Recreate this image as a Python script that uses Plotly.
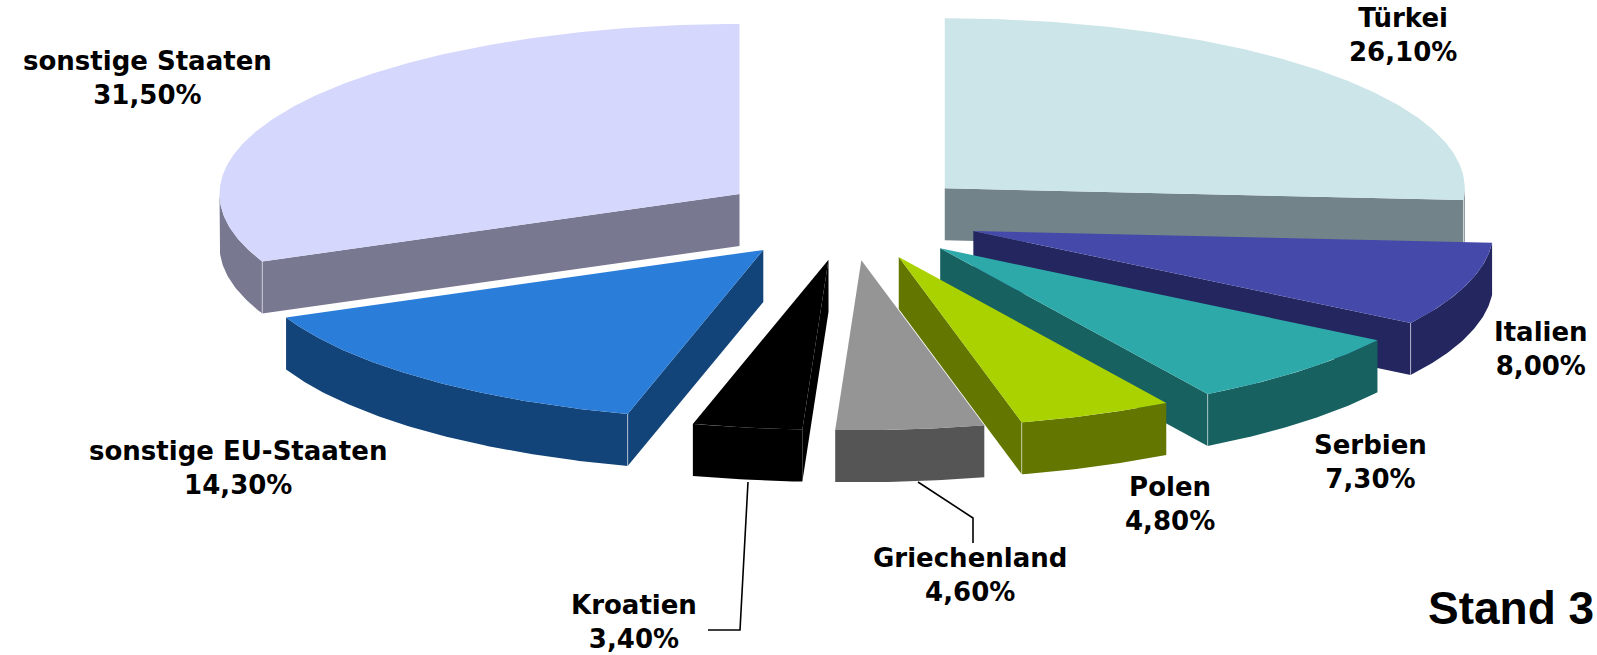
import numpy as np
import plotly.graph_objects as go

# Share of foreign residents by nationality (percent)
countries = ["Türkei", "Italien", "Serbien", "Polen", "Griechenland",
             "Kroatien", "sonstige EU-Staaten", "sonstige Staaten"]
shares = [26.1, 8.0, 7.3, 4.8, 4.6, 3.4, 14.3, 31.5]

top_colors = ["#CBE5E8", "#4449AA", "#2EA9A9", "#AAD100",
              "#959595", "#000000", "#2A7DD8", "#D5D8FC"]
side_colors = ["#72838A", "#24265F", "#176161", "#627600",
               "#555555", "#000000", "#134479", "#787891"]

# label centres (pixel space) and leader lines
label_x = [1403, 1541, 1370, 1170, 970, 634, 238, 147]
label_y = [35, 349, 462, 504, 575, 622, 468, 78]
leaders = {
    "Kroatien": [(748, 482), (740, 630), (708, 630)],
    "Griechenland": [(918, 482), (973, 518), (973, 543)],
}

# pseudo-3D pie geometry, working directly in pixel units
W, H = 1597, 655
CX, CY = 849.0, 217.5
RX, RY = 520.0, 170.0
EXPLODE = 131.0
DEPTH = 52.0


def rim(sx, sy, th):
    return sx + RX * np.sin(th), sy - RY * np.cos(th)


def fmt(v):
    return f"{v:.2f}".replace(".", ",") + "%"


fig = go.Figure()


def poly(xs, ys, color):
    fig.add_trace(go.Scatter(
        x=list(xs) + [xs[0]], y=list(ys) + [ys[0]],
        mode="lines", fill="toself", fillcolor=color,
        line=dict(width=0, color=color),
        hoverinfo="skip", showlegend=False))


def edge(x, y0, y1):
    fig.add_trace(go.Scatter(
        x=[x, x], y=[y0, y1], mode="lines",
        line=dict(width=1, color="rgba(255,255,255,0.55)"),
        hoverinfo="skip", showlegend=False))


total = float(sum(shares))
bounds = np.concatenate([[0.0], np.cumsum(shares)]) / total * 2 * np.pi
slices = []
for i, name in enumerate(countries):
    t1, t2 = bounds[i], bounds[i + 1]
    mid = 0.5 * (t1 + t2)
    sx = CX + EXPLODE * np.sin(mid)
    sy = CY - EXPLODE * (RY / RX) * np.cos(mid)
    slices.append((np.cos(mid), i, t1, t2, sx, sy))

# paint back-to-front
for _, i, t1, t2, sx, sy in sorted(slices, key=lambda s: -s[0]):
    side = side_colors[i]
    a0, a1 = max(t1, np.pi / 2), min(t2, 3 * np.pi / 2)
    curved = a1 > a0
    # radial walls facing the viewer
    walls = []
    if np.pi < t1 % (2 * np.pi) < 2 * np.pi:
        walls.append(t1)
    if 0 < t2 % (2 * np.pi) < np.pi:
        walls.append(t2)
    for phi in walls:
        rx, ry = rim(sx, sy, phi)
        poly([sx, rx, rx, sx], [sy, ry, ry + DEPTH, sy + DEPTH], side)
    # outer curved wall on the front half
    if curved:
        th = np.linspace(a0, a1, max(4, int(np.degrees(a1 - a0)) * 2))
        px, py = rim(sx, sy, th)
        poly(np.concatenate([px, px[::-1]]),
             np.concatenate([py, (py + DEPTH)[::-1]]), side)
    # light seam where a radial wall meets the curved wall
    if curved and i != 5:
        for phi in walls:
            if np.pi / 2 < phi % (2 * np.pi) < 3 * np.pi / 2:
                rx, ry = rim(sx, sy, phi)
                edge(rx, ry, ry + DEPTH)
    # top face
    th = np.linspace(t1, t2, max(4, int(np.degrees(t2 - t1)) * 2))
    px, py = rim(sx, sy, th)
    poly(np.concatenate([[sx], px]), np.concatenate([[sy], py]), top_colors[i])

# leader lines
for name, pts in leaders.items():
    fig.add_trace(go.Scatter(
        x=[p[0] for p in pts], y=[p[1] for p in pts], mode="lines",
        line=dict(color="black", width=1.6),
        hoverinfo="skip", showlegend=False))

label_font = dict(family="DejaVu Sans", size=26, color="black", weight="bold")
for i, name in enumerate(countries):
    fig.add_annotation(x=label_x[i], y=label_y[i], xref="x", yref="y",
                       text=f"{name}<br>{fmt(shares[i])}", showarrow=False,
                       xanchor="center", yanchor="middle", align="center",
                       font=label_font)

fig.add_annotation(x=1596, y=608, xref="x", yref="y", text="Stand 3",
                   showarrow=False, xanchor="right", yanchor="middle",
                   font=dict(family="Liberation Sans", size=46, color="black",
                             weight="bold"))

fig.update_layout(
    width=W, height=H, margin=dict(l=0, r=0, t=0, b=0),
    paper_bgcolor="white", plot_bgcolor="white",
    xaxis=dict(range=[0, W], visible=False, fixedrange=True),
    yaxis=dict(range=[H, 0], visible=False, fixedrange=True),
)

fig.write_html("out.html")
